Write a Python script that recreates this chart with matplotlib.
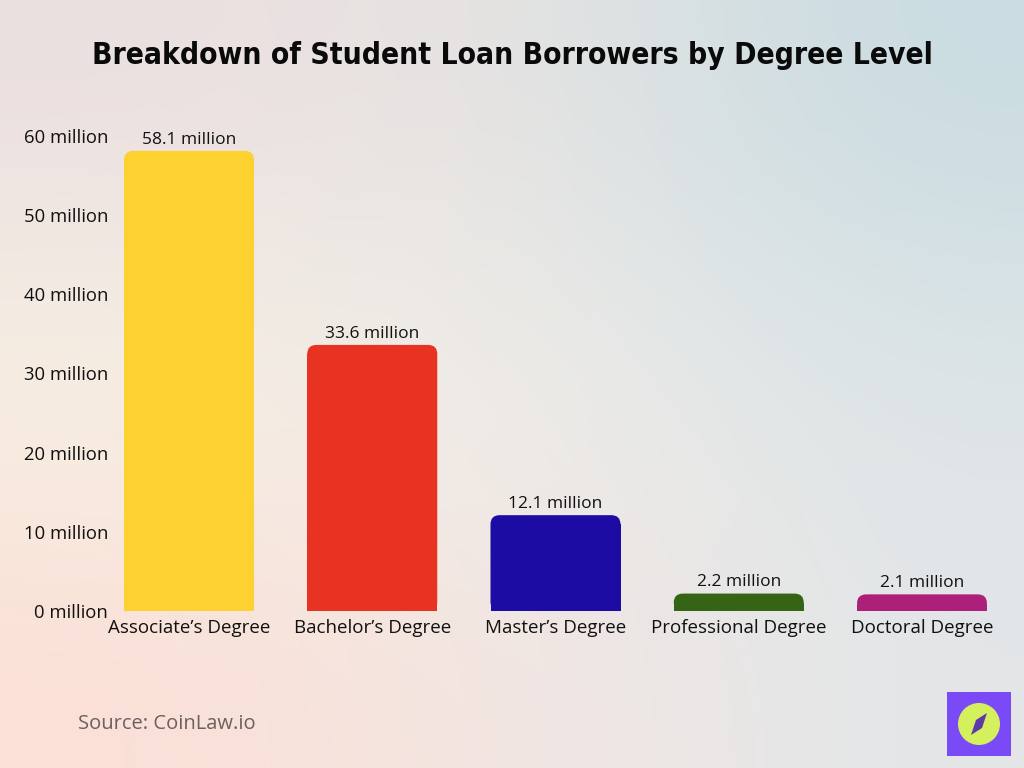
import matplotlib.pyplot as plt
import numpy as np
from matplotlib.patches import FancyBboxPatch, Rectangle, Circle, Polygon
from matplotlib.colors import to_rgb

categories = ["Associate\u2019s Degree", "Bachelor\u2019s Degree", "Master\u2019s Degree",
              "Professional Degree", "Doctoral Degree"]
borrowers = [58.1, 33.6, 12.1, 2.2, 2.1]  # million
value_labels = ["58.1 million", "33.6 million", "12.1 million", "2.2 million", "2.1 million"]
ytick_vals = [0, 10, 20, 30, 40, 50, 60]
ytick_labels = [f"{v} million" for v in ytick_vals]
colors = ["#fdd130", "#e83222", "#1c0ca4", "#346414", "#ad2079"]

plt.rcParams['font.family'] = ['Open Sans', 'DejaVu Sans']

fig = plt.figure(figsize=(10.24, 7.68), dpi=100)

# background gradient
bg = fig.add_axes([0, 0, 1, 1], zorder=-10)
grid = [["#ebdfe0", "#e7e4e2", "#c9dce2"],
        ["#f8f2e4", "#efeeea", "#dee5e7"],
        ["#fbdfd6", "#f3e6e2", "#e3e6e8"]]
img = np.array([[to_rgb(c) for c in row] for row in grid])
bg.imshow(img, aspect='auto', interpolation='bicubic', extent=[0, 1, 0, 1])
bg.set_xlim(0, 1)
bg.set_ylim(0, 1)
bg.axis('off')

# main axes
W, H = 1024, 768
left_px, right_px = 115, 1000
bottom_px, top_px = 611, 120
ax = fig.add_axes([left_px / W, 1 - bottom_px / H, (right_px - left_px) / W, (bottom_px - top_px) / H])
ax.patch.set_alpha(0)

step = 183.25
ax.set_xlim(-(189 - left_px) / step, 4 + (right_px - 922) / step)
ax.set_ylim(0, 62)

x = np.arange(len(categories))
bw = 130 / step
px_per_y = (bottom_px - top_px) / 62
aspect = step / px_per_y
r = 0.05  # rounding radius in x units
ry = r * aspect

for xi, v, c in zip(x, borrowers, colors):
    ax.bar(xi, max(v - ry, 0), width=bw, color=c, linewidth=0)
    ax.add_patch(FancyBboxPatch((xi - bw / 2, 0), bw, v,
                                boxstyle=f"round,pad=0,rounding_size={r}",
                                mutation_aspect=aspect, facecolor=c, edgecolor='none'))

for xi, v, lab in zip(x, borrowers, value_labels):
    ax.text(xi, v + 0.4, lab, ha='center', va='bottom', fontsize=12.5, color='#111111')

ax.set_yticks(ytick_vals)
ax.set_yticklabels(ytick_labels, fontsize=13.3, color='#111111')
ax.set_xticks(x)
ax.set_xticklabels(categories, fontsize=13.5, color='#111111')
ax.tick_params(axis='both', length=0)
ax.tick_params(axis='y', pad=5)
ax.tick_params(axis='x', pad=6)
for s in ax.spines.values():
    s.set_visible(False)

fig.text(0.5, 1 - 56 / H, "Breakdown of Student Loan Borrowers by Degree Level",
         ha='center', va='center', fontsize=21.5, fontweight='bold',
         fontstretch='condensed', color='#0a0a0a', family=['DejaVu Sans'])

fig.text(78 / W, 1 - 724 / H, "Source: CoinLaw.io", ha='left', va='center',
         fontsize=14.5, color='#6b605d')

# logo
fig.patches.append(Rectangle((947 / W, 1 - 756 / H), 64 / W, 64 / H,
                             transform=fig.transFigure, facecolor='#7b4af7', edgecolor='none'))
lx, ly = 979, 724
fig.patches.append(Circle((lx, H - ly), 21, transform=None, facecolor='#d4f05c', edgecolor='none'))
diamond = [(lx + 8, H - ly + 11), (lx + 3, H - ly - 4), (lx - 8, H - ly - 11), (lx - 3, H - ly + 4)]
fig.patches.append(Polygon(diamond, closed=True, transform=None, facecolor='#5b3aa8', edgecolor='none'))

fig.savefig("out.png", dpi=100)
